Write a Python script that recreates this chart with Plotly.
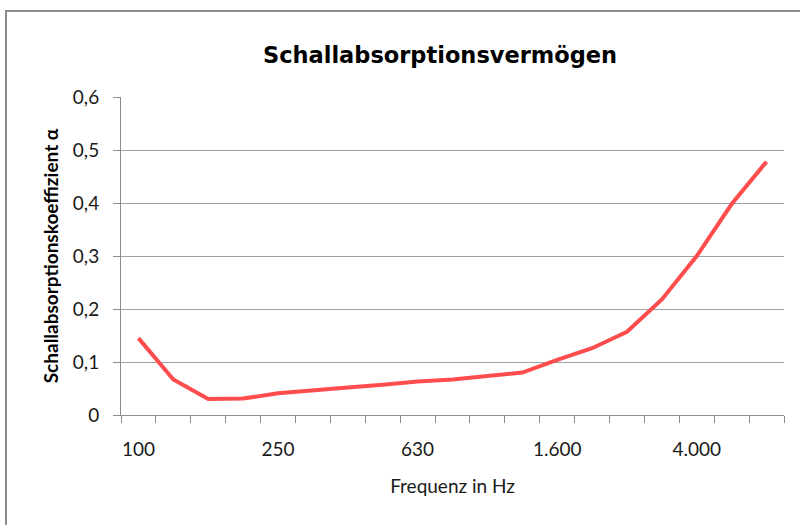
import plotly.graph_objects as go

frequencies = ["100", "125", "160", "200", "250", "315", "400", "500", "630", "800",
               "1000", "1250", "1600", "2000", "2500", "3150", "4000", "5000", "6300"]
alpha = [0.145, 0.067, 0.030, 0.031, 0.041, 0.047, 0.052, 0.057, 0.063, 0.067,
         0.074, 0.080, 0.104, 0.126, 0.157, 0.218, 0.300, 0.398, 0.478]
tick_positions = [0, 4, 8, 12, 16]
tick_labels = ["100", "250", "630", "1.600", "4.000"]
y_ticks = [0, 0.1, 0.2, 0.3, 0.4, 0.5, 0.6]

x_idx = list(range(len(frequencies)))

axis_gray = "#8c8c8c"
text_col = "#1a1a1a"
font_main = "Lato, Roboto, sans-serif"

fig = go.Figure()
fig.add_trace(go.Scatter(
    x=x_idx, y=alpha, mode="lines",
    customdata=frequencies,
    line=dict(color="#ff4d4d", width=4),
    hovertemplate="%{customdata} Hz: %{y}<extra></extra>",
    showlegend=False,
))

L, R, T, B = 121, 16, 97, 110
W, H = 800, 525
pw, ph = W - L - R, H - T - B

def px_x(p):
    return (p - L) / pw

def px_y(p):
    return (H - B - p) / ph

fig.add_shape(type="rect", xref="paper", yref="paper",
              x0=px_x(6), x1=px_x(820), y0=px_y(540), y1=px_y(11),
              line=dict(color=axis_gray, width=2), fillcolor="rgba(0,0,0,0)",
              layer="below")

fig.update_layout(
    width=W, height=H,
    margin=dict(l=L, r=R, t=T, b=B),
    paper_bgcolor="white", plot_bgcolor="white",
    separators=",.",
    title=dict(text="<b>Schallabsorptionsvermögen</b>", x=(440 - L) / pw, xref="paper",
               xanchor="center", y=1 - 55 / H, yanchor="middle",
               font=dict(family="DejaVu Sans, sans-serif", size=22.5, color="black")),
    xaxis=dict(
        range=[-0.5, len(frequencies) - 0.5],
        tickmode="array", tickvals=tick_positions, ticktext=tick_labels,
        ticks="outside", ticklen=0, tickcolor="rgba(0,0,0,0)",
        ticklabelstandoff=17,
        minor=dict(tickmode="linear", tick0=-0.5, dtick=1, ticks="outside",
                   ticklen=7, tickcolor=axis_gray, tickwidth=1, showgrid=False),
        showgrid=False, showline=True, linecolor=axis_gray, linewidth=1,
        zeroline=False,
        tickfont=dict(family=font_main, size=19, color=text_col),
        title=dict(text="Frequenz in Hz", standoff=20,
                   font=dict(family=font_main, size=19, color=text_col)),
    ),
    yaxis=dict(
        range=[0, 0.6], tickmode="array", tickvals=y_ticks,
        ticks="outside", ticklen=7, tickcolor=axis_gray,
        ticklabelstandoff=10,
        showgrid=True, gridcolor="#a0a0a0", gridwidth=1,
        showline=True, linecolor=axis_gray, linewidth=1, zeroline=False,
        tickfont=dict(family=font_main, size=19, color=text_col),
        title=dict(text="<b>Schallabsorptionskoeffizient α</b>", standoff=9,
                   font=dict(family=font_main, size=19, color="black")),
    ),
)

fig.write_html("out.html", config={"displayModeBar": False},
               post_script="document.body.style.margin='0';")
